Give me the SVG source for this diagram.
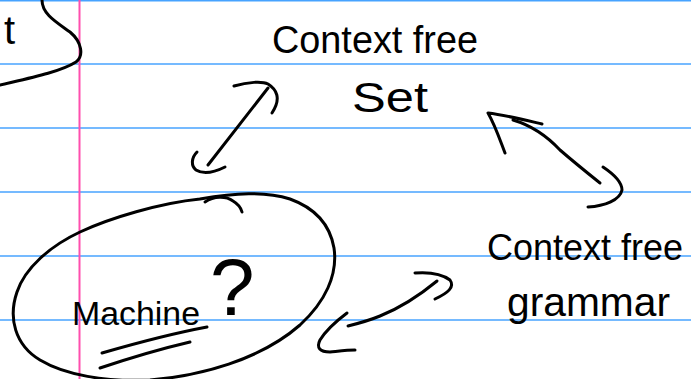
<svg xmlns="http://www.w3.org/2000/svg" width="691" height="379" viewBox="0 0 691 379">
  <defs>
    <style>
      .rule { stroke: #47a3ff; stroke-width: 1.5; }
      .margin { stroke: #ff4fae; stroke-width: 2; }
      .ink { fill: none; stroke: #000; stroke-width: 3; stroke-linecap: round; stroke-linejoin: round; }
      .hand { font-family: "Liberation Sans", "DejaVu Sans", sans-serif; fill: #000; }
    </style>
  </defs>

  <!-- lined paper -->
  <rect width="691" height="379" fill="#fff"/>
  <g id="paper">
    <line class="rule" x1="0" y1="0.75" x2="691" y2="0.75"/>
    <line class="rule" x1="0" y1="64" x2="691" y2="64"/>
    <line class="rule" x1="0" y1="128" x2="691" y2="128"/>
    <line class="rule" x1="0" y1="192" x2="691" y2="192"/>
    <line class="rule" x1="0" y1="256" x2="691" y2="256"/>
    <line class="rule" x1="0" y1="320" x2="691" y2="320"/>
    <line class="margin" x1="79.5" y1="0" x2="79.5" y2="379"/>
  </g>

  <!-- partial note at the top-left corner -->
  <g id="corner-note">
    <text class="hand" x="4" y="44" font-size="40">t</text>
    <path class="ink" d="M42 0 C42 14 56 22 70 32 C82 42 84 56 76 62 C60 72 30 78 0 85"/>
  </g>

  <g id="cf-set">
    <text class="hand" x="272" y="53" font-size="38" textLength="206" lengthAdjust="spacingAndGlyphs">Context free</text>
    <text class="hand" x="352" y="112" font-size="42" textLength="76" lengthAdjust="spacingAndGlyphs">Set</text>
  </g>

  <g id="cf-grammar">
    <text class="hand" x="487" y="260" font-size="36" textLength="196" lengthAdjust="spacingAndGlyphs">Context free</text>
    <text class="hand" x="507" y="316" font-size="40" textLength="163" lengthAdjust="spacingAndGlyphs">grammar</text>
  </g>

  <g id="machine">
    <path class="ink" d="M205 202 C214 196 226 196 233 201 C238 204 241 208 242 212"/>
    <path class="ink" d="M200 199 C160 203 110 218 80 232 C50 246 25 268 17 292 C8 318 15 345 40 360 C65 375 105 382 150 380 C200 376 260 360 300 325 C325 302 338 275 334 248 C330 225 315 208 290 199 C265 191 235 193 200 199"/>
    <text class="hand" y="325"><tspan x="72" font-size="34" textLength="128" lengthAdjust="spacingAndGlyphs">Machine</tspan><tspan x="210" y="315" font-size="80">?</tspan></text>
    <path class="ink" d="M102 353 C140 342 175 333 207 327"/>
    <path class="ink" d="M100 368 C130 358 160 349 190 342"/>
  </g>

  <!-- double-headed connectors -->
  <g id="connectors">
    <path class="ink" d="M268 88 L208 165"/>
    <path class="ink" d="M234 86 C248 82 262 81 268 84 C276 89 282 98 272 113"/>
    <path class="ink" d="M197 152 C191 158 191 166 196 170 C204 175 215 172 225 167"/>

    <path class="ink" d="M513 120 C530 125 545 134 560 150 C575 163 590 175 600 183"/>
    <path class="ink" d="M505 153 C500 140 495 125 488 113 C505 115 525 120 542 124"/>
    <path class="ink" d="M603 167 C612 173 622 182 622 190 C620 200 605 206 588 207"/>

    <path class="ink" d="M437 281 C420 295 400 308 380 316 C368 321 356 324 348 326"/>
    <path class="ink" d="M415 273 C428 272 442 274 450 280 C455 287 448 293 435 299"/>
    <path class="ink" d="M347 313 C335 322 325 332 320 340 C316 348 320 352 330 352 C340 351 348 350 355 350"/>
  </g>
</svg>
